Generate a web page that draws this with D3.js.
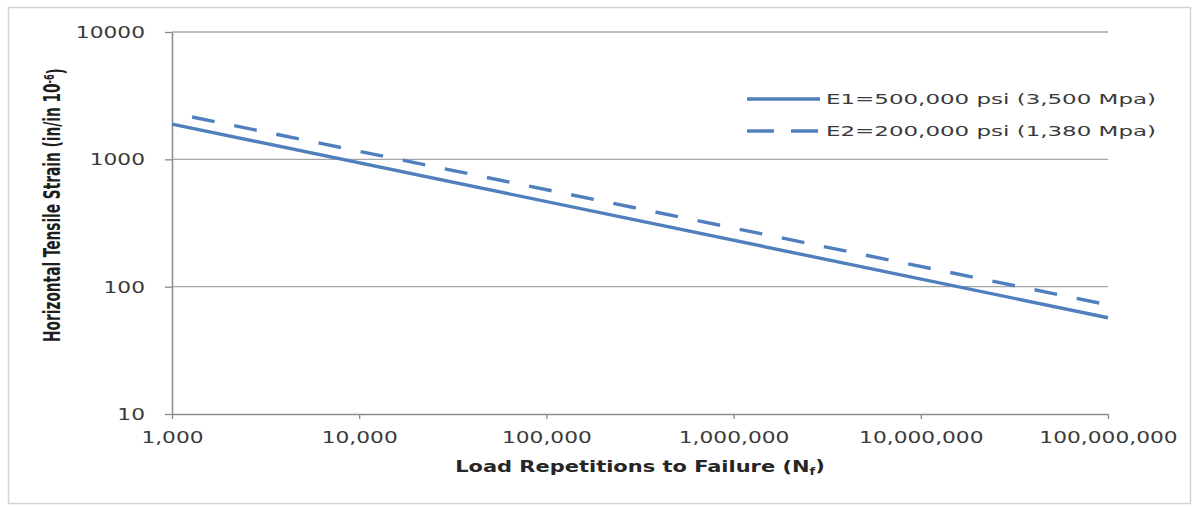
<!DOCTYPE html>
<html>
<head>
<meta charset="utf-8">
<script src="https://cdn.jsdelivr.net/npm/d3@7"></script>
<style>
  html, body { margin: 0; padding: 0; background: #fff; }
  svg { display: block; }
</style>
</head>
<body>
<svg id="chart" width="1196" height="506"></svg>
<script>
// ---- data ----
const seriesNames = ["E1=500,000 psi (3,500 Mpa)", "E2=200,000 psi (1,380 Mpa)"];
const repetitionsE1 = [1000, 100000000];
const strainE1 = [1890, 57];
const repetitionsE2 = [1280, 100000000];
const strainE2 = [2150, 72];
const xTickValues = [1000, 10000, 100000, 1000000, 10000000, 100000000];
const yTickValues = [10, 100, 1000, 10000];
const xTitle = "Load Repetitions to Failure (N";
const xTitleSub = "f";
const yTitle = "Horizontal Tensile Strain (in/in 10";
const yTitleSup = "-6";

// ---- layout ----
const plot = { left: 172, right: 1108, top: 32, bottom: 414 };
const lineColor = "#4f7fbd";
const gridColor = "#a6a6a6";
const axisColor = "#8c8c8c";
const textColor = "#3a3a3a";
const tickFont = "DejaVu Sans, Verdana, sans-serif";
const stretch = 1.45;

const svg = d3.select("#chart");

// outer border
svg.append("rect")
  .attr("x", 8.5).attr("y", 7.5)
  .attr("width", 1182).attr("height", 496)
  .attr("fill", "#fff").attr("stroke", "#d4d4d4").attr("stroke-width", 1.5);

const x = d3.scaleLog().domain([1000, 100000000]).range([plot.left, plot.right]);
const y = d3.scaleLog().domain([10, 10000]).range([plot.bottom, plot.top]);

// gridlines
svg.append("g").selectAll("line")
  .data(yTickValues.filter(v => v > 10))
  .join("line")
  .attr("x1", plot.left).attr("x2", plot.right)
  .attr("y1", d => y(d)).attr("y2", d => y(d))
  .attr("stroke", gridColor).attr("stroke-width", 1.3);

// y axis
const yAxis = svg.append("g")
  .attr("transform", `translate(${plot.left},0)`)
  .call(d3.axisLeft(y).tickValues(yTickValues).tickFormat(d3.format("d")).tickSize(7).tickSizeOuter(0));
yAxis.select(".domain").attr("stroke", axisColor).attr("stroke-width", 1.5);
yAxis.selectAll(".tick line").attr("stroke", axisColor).attr("stroke-width", 1.3);
yAxis.selectAll(".tick text")
  .attr("x", -27 / stretch)
  .attr("dy", "0.36em")
  .attr("transform", `scale(${stretch},1)`)
  .attr("fill", textColor)
  .style("font-family", tickFont).style("font-size", "15px");

// x axis
const xAxis = svg.append("g")
  .attr("transform", `translate(0,${plot.bottom})`)
  .call(d3.axisBottom(x).tickValues(xTickValues).tickFormat(d3.format(",")).tickSize(5).tickSizeOuter(0));
xAxis.select(".domain").attr("stroke", axisColor).attr("stroke-width", 1.5);
xAxis.selectAll(".tick line").attr("stroke", axisColor).attr("stroke-width", 1.3);
xAxis.selectAll(".tick text")
  .attr("y", 24)
  .attr("dy", "0.36em")
  .attr("transform", `scale(${stretch},1)`)
  .attr("fill", textColor)
  .style("font-family", tickFont).style("font-size", "15px");

// series lines
const line = d3.line().x(d => x(d[0])).y(d => y(d[1]));
const dataE1 = repetitionsE1.map((r, i) => [r, strainE1[i]]);
const dataE2 = repetitionsE2.map((r, i) => [r, strainE2[i]]);

svg.append("path").datum(dataE1)
  .attr("d", line).attr("fill", "none")
  .attr("stroke", lineColor).attr("stroke-width", 3.4);
svg.append("path").datum(dataE2)
  .attr("d", line).attr("fill", "none")
  .attr("stroke", lineColor).attr("stroke-width", 3.4)
  .attr("stroke-dasharray", "23,20");

// legend
const legend = svg.append("g");
const legendRows = [
  { name: seriesNames[0], dash: null, y: 99 },
  { name: seriesNames[1], dash: "27,17", y: 131 }
];
legendRows.forEach(r => {
  legend.append("line")
    .attr("x1", 747).attr("x2", 820)
    .attr("y1", r.y).attr("y2", r.y)
    .attr("stroke", lineColor).attr("stroke-width", 3.4)
    .attr("stroke-dasharray", r.dash);
  legend.append("text")
    .attr("x", 826).attr("y", r.y).attr("dy", "0.36em")
    .attr("textLength", 330).attr("lengthAdjust", "spacingAndGlyphs")
    .attr("fill", textColor)
    .style("font-family", tickFont).style("font-size", "14.5px")
    .text(r.name);
});

// axis titles
function fitText(sel, targetWidth) {
  const w = sel.node().getComputedTextLength();
  return targetWidth / w;
}

const xt = svg.append("text")
  .attr("text-anchor", "middle")
  .attr("fill", "#262626")
  .style("font-family", "Liberation Sans Narrow, DejaVu Sans Condensed, Liberation Sans, sans-serif")
  .style("font-weight", "bold").style("font-size", "16px");
xt.append("tspan").text(xTitle);
xt.append("tspan").attr("dy", "0.25em").style("font-size", "10px").text(xTitleSub);
xt.append("tspan").attr("dy", "-0.25em").text(")");
{
  const sx = fitText(xt, 370);
  xt.attr("transform", `translate(640,472) scale(${sx},1)`);
}

const yt = svg.append("text")
  .attr("text-anchor", "middle")
  .attr("fill", "#1e1e1e")
  .style("font-family", "Liberation Sans Narrow, DejaVu Sans Condensed, Liberation Sans, sans-serif")
  .style("font-weight", "bold").style("font-size", "15px");
yt.append("tspan").text(yTitle);
yt.append("tspan").attr("dy", "-0.45em").style("font-size", "9px").text(yTitleSup);
yt.append("tspan").attr("dy", "0.45em").text(")");
{
  const sx = fitText(yt, 274);
  yt.attr("transform", `translate(60,205) rotate(-90) scale(${sx},1.5)`);
}
</script>
</body>
</html>
